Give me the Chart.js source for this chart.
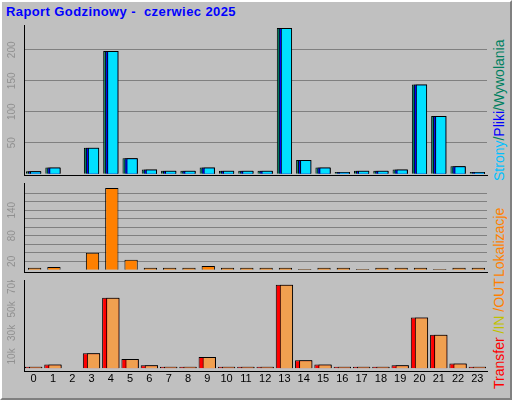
<!DOCTYPE html>
<html><head><meta charset="utf-8">
<script src="https://cdn.jsdelivr.net/npm/chart.js@4/dist/chart.umd.min.js"></script>
<style>
body{margin:0;background:#fff}
#wrap{position:absolute;left:0;top:0;width:508px;height:396px;background:#c0c0c0;border-left:2px solid #fff;border-top:2px solid #fff;border-right:2px solid #808080;border-bottom:2px solid #808080;box-sizing:content-box}
canvas{position:absolute}
#title{position:absolute;left:6px;top:4px;font:bold 13px "Liberation Sans",Arial;letter-spacing:0.4px;color:#0000ff;white-space:pre}
.rl{position:absolute;font:14px "Liberation Sans",Arial;transform:rotate(-90deg);transform-origin:0 0;white-space:nowrap}
</style></head><body>
<div id="wrap"></div>
<div id="title">Raport Godzinowy -  czerwiec 2025</div>
<canvas id="c1" style="left:0;top:25px" width="491" height="158"></canvas>
<canvas id="c2" style="left:0;top:183px" width="491" height="97"></canvas>
<canvas id="c3" style="left:0;top:280px" width="491" height="115"></canvas>
<div class="rl" style="left:491px;top:181px"><span style="color:#00c0ff">Strony</span><span style="color:#008060">/</span><span style="color:#0000ff">Pliki</span><span style="color:#008060">/Wywolania</span></div>
<div class="rl" style="left:491px;top:277px;color:#ff8000">Lokalizacje</div>
<div class="rl" style="left:491px;top:389px"><span style="color:#ff0000">Transfer</span><span style="color:#c0c000"> /IN</span><span style="color:#ff8000"> /OUT</span></div>
<script>
const hours=['0','1','2','3','4','5','6','7','8','9','10','11','12','13','14','15','16','17','18','19','20','21','22','23'];
const hits=[4,10,0,42,198,25,7,5,5,10,5,5,5,235,22,10,3,5,5,7,144,93,12,3];
const files=[4,10,0,42,198,25,7,5,5,10,5,5,5,235,22,10,3,5,5,7,144,93,12,3];
const pages=[4,10,0,42,198,25,7,5,5,10,5,5,5,235,22,10,3,5,5,7,144,93,12,3];
const visits=[5,7,0,40,192,24,5,5,5,9,5,5,5,5,2,5,5,2,5,5,5,2,5,5];
const kbIn=[1300,3200,0,12600,60000,7900,2400,1300,1300,9500,1300,1300,1300,71000,6800,3200,1300,1300,1300,2400,43000,28400,3900,1300];
const kbOut=[1300,3200,0,12600,60000,7900,2400,1300,1300,9500,1300,1300,1300,71000,6800,3200,1300,1300,1300,2400,43000,28400,3900,1300];

const shiftPlugin={id:'shift',afterDatasetsUpdate(ch){ch.data.datasets.forEach((d,i)=>{const s=d.shift||0;ch.getDatasetMeta(i).data.forEach(e=>{e.x+=s;});});}};
function ylabels(labels,fmt){return{id:'yl',afterDraw(ch){const c=ch.ctx,y=ch.scales.y;c.save();c.fillStyle='#909090';c.font='10px "Liberation Sans",Arial';c.textAlign='center';c.textBaseline='middle';labels.forEach(v=>{const py=y.getPixelForValue(v);c.save();c.translate(12,py);c.rotate(-Math.PI/2);c.fillText(fmt(v),0,0);c.restore();});c.restore();}};}
const xlabels={id:'xl',afterDraw(ch){if(!ch.options.showHours)return;const c=ch.ctx,x=ch.scales.x;c.save();c.fillStyle='#000';c.font='11px "Liberation Sans",Arial';c.textAlign='center';c.textBaseline='middle';hours.forEach((h,i)=>c.fillText(h,x.getPixelForValue(i),ch.chartArea.bottom+8));c.restore();}};
function mk(id,datasets,min,max,step,labels,fmt,showX){
 return new Chart(document.getElementById(id),{type:'bar',data:{labels:hours,datasets},
 options:{responsive:false,animation:false,devicePixelRatio:1,showHours:showX,
  layout:{padding:{left:24,right:4,top:0,bottom:showX?16:0}},
  plugins:{legend:{display:false},tooltip:{enabled:false}},
  scales:{
   x:{offset:true,grid:{display:false},border:{display:true,color:'#000',width:1},ticks:{display:false}},
   y:{min,max,grid:{color:'#808080',lineWidth:1,drawTicks:false},border:{display:true,color:'#000',width:1},ticks:{display:false,stepSize:step},
      afterBuildTicks(s){s.ticks=s.ticks.filter(t=>t.value>0&&t.value%step===0);}}
  }},plugins:[shiftPlugin,ylabels(labels,fmt),xlabels]});
}
const bw=1;
mk('c1',[
 {data:pages,backgroundColor:'#00e0ff',borderColor:'#000',borderWidth:bw,barPercentage:0.585,categoryPercentage:1,grouped:false,shift:2,order:1},
 {data:files,backgroundColor:'#0000ff',borderColor:'#000',borderWidth:bw,barPercentage:0.69,categoryPercentage:1,grouped:false,shift:1,order:2},
 {data:hits,backgroundColor:'#008060',borderColor:'#000',borderWidth:bw,barPercentage:0.79,categoryPercentage:1,grouped:false,shift:0,order:3}
],-2,240,50,[50,100,150,200],v=>String(v),false);
mk('c2',[
 {data:visits,backgroundColor:'#ff8000',borderColor:'#000',borderWidth:bw,barPercentage:0.69,categoryPercentage:1,grouped:false,shift:1}
],-5,204,20,[20,80,140],v=>String(v),false);
mk('c3',[
 {data:kbOut,backgroundColor:'#f0a050',borderColor:'#000',borderWidth:bw,barPercentage:0.69,categoryPercentage:1,grouped:false,shift:2,order:1},
 {data:kbIn,backgroundColor:'#ff0000',borderColor:'#000',borderWidth:bw,barPercentage:0.9,categoryPercentage:1,grouped:false,shift:0,order:2}
],-2400,75000,10000,[10000,30000,50000,70000],v=>(v/1000)+'k',true);
</script></body></html>
